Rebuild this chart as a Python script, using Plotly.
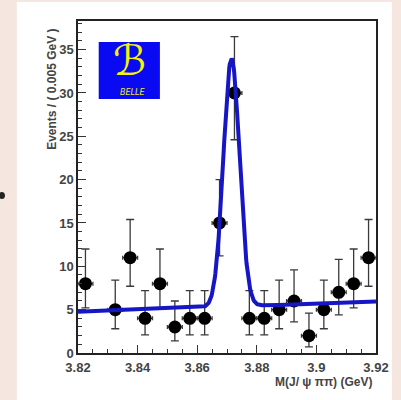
import plotly.graph_objects as go
import numpy as np

# ---- data ----
mass_bins = [3.8225, 3.8325, 3.8375, 3.8425, 3.8475, 3.8525, 3.8575, 3.8625, 3.8675,
             3.8725, 3.8775, 3.8825, 3.8875, 3.8925, 3.8975, 3.9025, 3.9075, 3.9125, 3.9175]
events = [8, 5, 11, 4, 8, 3, 4, 4, 15, 30, 4, 4, 5, 6, 2, 5, 7, 8, 11]
err_upper_bound = [12.0, 8.4, 15.4, 7.2, 12.0, 6.0, 7.2, 7.2, 20.0, 36.5,
                   7.2, 7.2, 8.4, 9.6, 4.6, 8.4, 10.8, 12.0, 15.4]
err_lower_bound = [5.2, 2.8, 7.7, 2.1, 5.2, 1.4, 2.1, 2.1, 11.2, 24.6,
                   2.1, 2.1, 2.8, 3.6, 0.7, 2.8, 4.4, 5.2, 7.7]
bin_half_width = 0.0025

# fit model parameters (linear background + Gaussian peak)
bkg_at_low = 4.77
bkg_at_high = 5.93
peak_mean = 3.8715
peak_sigma = 0.0027
peak_amp = 28.6

x_tickvals = [3.82, 3.84, 3.86, 3.88, 3.90, 3.92]
x_ticktext = ["3.82", "3.84", "3.86", "3.88", "3.9", "3.92"]
y_tickvals = [0, 5, 10, 15, 20, 25, 30, 35]
y_ticktext = ["0", "5", "10", "15", "20", "25", "30", "35"]

X_RANGE = [3.82, 3.92]
Y_RANGE = [0, 38.3]

# ---- layout geometry (pixels) ----
W, H = 401, 400
L, R, T, B = 78, 380, 21, 353


def px(x):
    return (x - L) / (R - L)


def py(y):
    return (B - y) / (B - T)


ev = np.array(events, dtype=float)
e_plus = np.array(err_upper_bound) - ev
e_minus = ev - np.array(err_lower_bound)

xf = np.linspace(X_RANGE[0], X_RANGE[1], 600)
bkg = bkg_at_low + (bkg_at_high - bkg_at_low) * (xf - X_RANGE[0]) / (X_RANGE[1] - X_RANGE[0])
fit = bkg + peak_amp * np.exp(-0.5 * ((xf - peak_mean) / peak_sigma) ** 2)

fig = go.Figure()
fig.add_trace(go.Scatter(
    x=mass_bins, y=events, mode="markers",
    marker=dict(color="black", size=13),
    error_y=dict(type="data", symmetric=False, array=e_plus, arrayminus=e_minus,
                 color="#3a3a3a", thickness=1.3, width=4),
    error_x=dict(type="constant", value=bin_half_width, color="#3a3a3a", thickness=1.3, width=2),
    showlegend=False, hoverinfo="skip",
))
fig.add_trace(go.Scatter(
    x=xf, y=fit, mode="lines",
    line=dict(color="#1616c4", width=4),
    showlegend=False, hoverinfo="skip",
))

axis_font = dict(family="Liberation Sans, Arial", size=13, color="#444444", weight="bold")
title_font = dict(family="Liberation Sans, Arial", size=12, color="#444444", weight="bold")

fig.update_layout(
    width=W, height=H,
    margin=dict(l=L, r=W - R, t=T, b=H - B, pad=0),
    paper_bgcolor="#f5e6df",
    plot_bgcolor="white",
    xaxis=dict(range=X_RANGE, tickvals=x_tickvals, ticktext=x_ticktext,
               ticks="inside", ticklen=8, tickwidth=1.2, tickcolor="#333",
               minor=dict(ticks="inside", dtick=0.005, ticklen=4, tickwidth=1.2, tickcolor="#333"),
               showgrid=False, zeroline=False, showline=True, linecolor="#222", linewidth=1.5,
               mirror=True, tickfont=axis_font, ticklabelstandoff=2),
    yaxis=dict(range=Y_RANGE, tickvals=y_tickvals, ticktext=y_ticktext,
               ticks="inside", ticklen=8, tickwidth=1.2, tickcolor="#333",
               minor=dict(ticks="inside", dtick=1, ticklen=4, tickwidth=1.2, tickcolor="#333"),
               showgrid=False, zeroline=False, showline=True, linecolor="#222", linewidth=1.5,
               mirror=True, tickfont=axis_font),
    shapes=[
        # white slide panel
        dict(type="rect", xref="paper", yref="paper", layer="below",
             x0=px(16), x1=px(396), y0=py(402), y1=py(2),
             fillcolor="white", line=dict(width=0)),
        # Belle logo box
        dict(type="rect", xref="paper", yref="paper", layer="above",
             x0=px(99), x1=px(161), y0=py(99), y1=py(42),
             fillcolor="#0a0af2", line=dict(width=0)),
        # bullet on slide edge
        dict(type="circle", xref="paper", yref="paper", layer="above",
             x0=px(-2.5), x1=px(4), y0=py(199), y1=py(192),
             fillcolor="#222", line=dict(width=0)),
    ],
    annotations=[
        dict(text="Events / ( 0.005 GeV )", textangle=-90, xref="paper", yref="paper",
             x=px(51), y=py(27), xanchor="center", yanchor="top", showarrow=False,
             font=title_font),
        dict(text="M(J/ ψ ππ) (GeV)", xref="paper", yref="paper",
             x=px(378), y=py(382), xanchor="right", yanchor="middle", showarrow=False,
             font=title_font),
        dict(text="ℬ", xref="paper", yref="paper", x=px(130), y=py(60),
             xanchor="center", yanchor="middle", showarrow=False,
             font=dict(family="DejaVu Serif, DejaVu Sans", size=42, color="#f2f20a")),
        dict(text="<i>BELLE</i>", xref="paper", yref="paper", x=px(133), y=py(92),
             xanchor="center", yanchor="middle", showarrow=False,
             font=dict(family="DejaVu Sans", size=8, color="#e8e830")),
    ],
)

fig.write_html("out.html")
